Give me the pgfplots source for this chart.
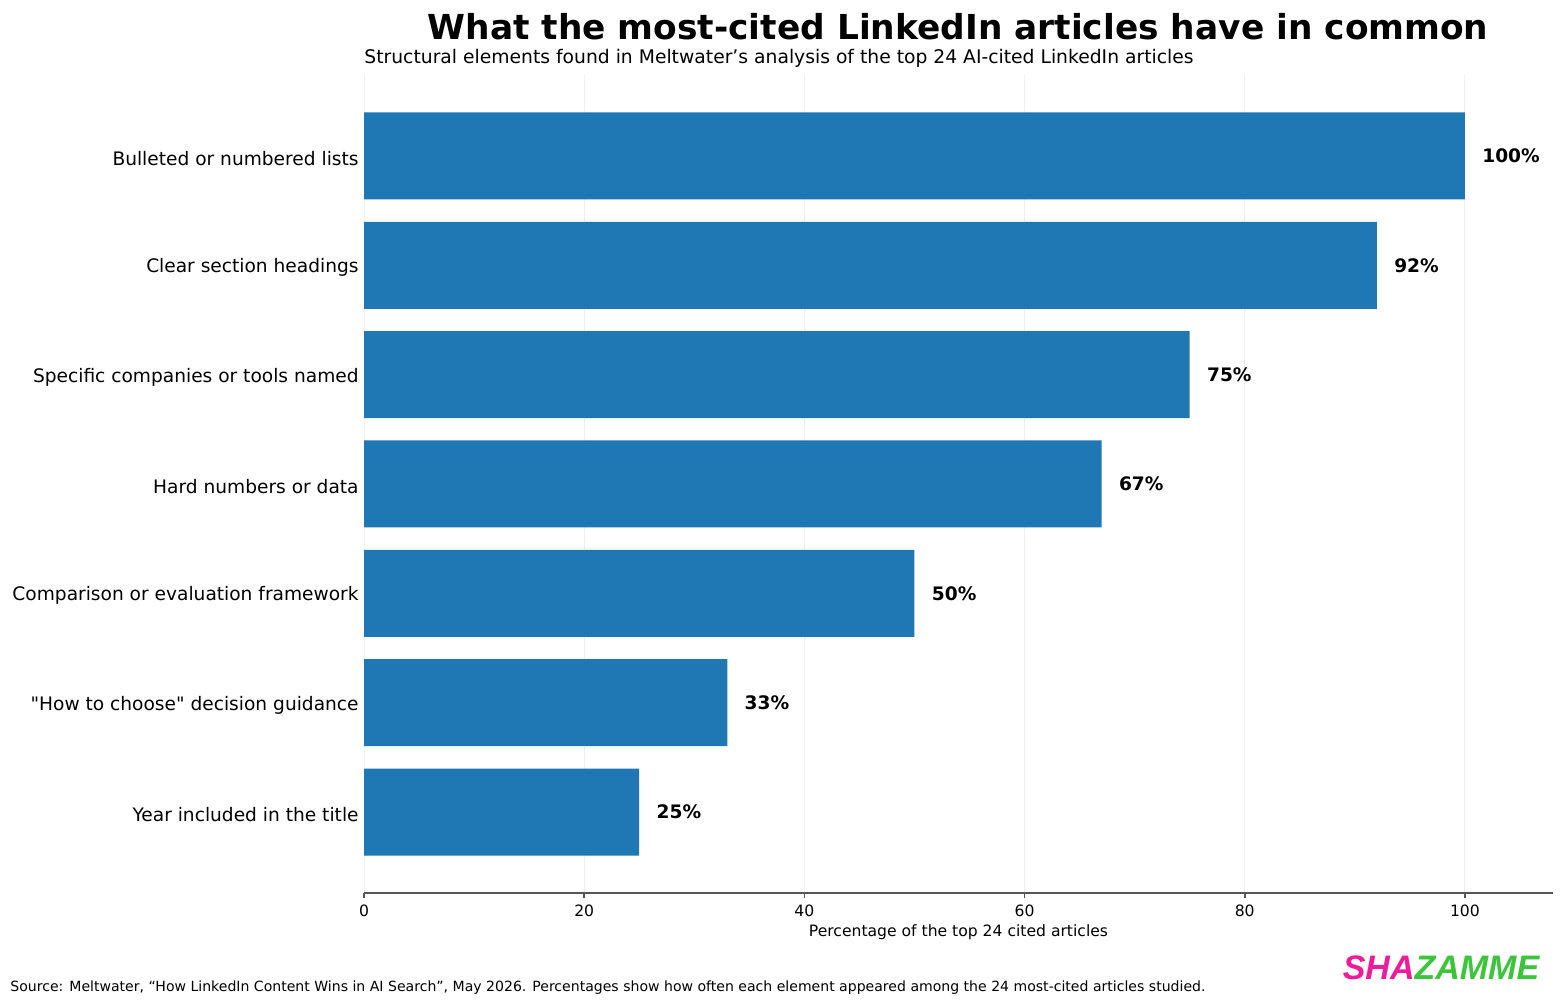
\documentclass[border=0pt]{standalone}
\usepackage{pgfplots}
\pgfplotsset{compat=1.18}
\usepackage{fontspec}
\setmainfont{DejaVu Sans}[Ligatures=TeXOff]
\newfontfamily\logofont{Liberation Sans}
\definecolor{barblue}{HTML}{1F77B4}
\definecolor{gridgray}{HTML}{EEEEEE}
\definecolor{spine}{HTML}{555555}
\definecolor{logopink}{HTML}{EC1C9C}
\definecolor{logogreen}{HTML}{3CC43C}
\begin{document}
\begin{tikzpicture}
\useasboundingbox (0pt,0pt) rectangle (781.5pt,503pt);
\begin{axis}[
  at={(182pt,56.5pt)}, anchor=south west,
  scale only axis, width=594.5pt, height=409pt,
  xbar, bar width=43.5pt,
  xmin=0, xmax=108, ymin=-0.74, ymax=6.74,
  axis lines*=left,
  y axis line style={draw=none},
  x axis line style={spine, line width=0.8pt},
  xtick={0,20,40,60,80,100},
  ytick={0,1,2,3,4,5,6},
  yticklabels={Year included in the title,{"How to choose" decision guidance},Comparison or evaluation framework,Hard numbers or data,Specific companies or tools named,Clear section headings,Bulleted or numbered lists},
  xmajorgrids, grid style={gridgray, line width=0.5pt},
  tick align=outside,
  x tick style={spine, line width=0.8pt},
  major tick length=2.5pt,
  y tick style={draw=none},
  xticklabel style={font=\fontsize{7.8}{9}\selectfont, inner sep=0pt, yshift=-3.5pt, anchor=north},
  yticklabel style={font=\fontsize{9.3}{11}\selectfont, inner sep=0pt, xshift=0pt, yshift=-1.2pt, anchor=east},
  /pgf/number format/assume math mode=true,
  xlabel={Percentage of the top 24 cited articles},
  xlabel style={font=\fontsize{7.8}{9}\selectfont, at={(axis description cs:0.5,-0.0477)}, anchor=center, inner sep=0pt},
  nodes near coords={\pgfmathprintnumber{\pgfplotspointmeta}\%},
  point meta=x,
  every node near coord/.append style={font=\bfseries\fontsize{9.3}{11}\selectfont, anchor=west, inner sep=0pt, xshift=8.5pt, black},
  clip=false,
]
\addplot[fill=barblue, draw=none] coordinates {(25,0) (33,1) (50,2) (67,3) (75,4) (92,5) (100,6)};
\end{axis}
\node[font=\bfseries\fontsize{17.2}{20}\selectfont] at (479pt,489.5pt) {What the most-cited LinkedIn articles have in common};
\node[anchor=west, inner sep=0pt, font=\fontsize{9.37}{11}\selectfont] at (182pt,474pt) {Structural elements found in Meltwater’s analysis of the top 24 AI-cited LinkedIn articles};
\node[anchor=west, inner sep=0pt, font=\fontsize{7.03}{9}\selectfont] at (5pt,9pt) {Source: Meltwater, “How LinkedIn Content Wins in AI Search”, May 2026. Percentages show how often each element appeared among the 24 most-cited articles studied.};
\node[anchor=center, inner sep=0pt, font=\logofont\bfseries\itshape\fontsize{17}{20}\selectfont] at (720.5pt,19pt) {\textcolor{logopink}{SHA}\textcolor{logogreen}{ZAMME}};
\end{tikzpicture}
\end{document}
